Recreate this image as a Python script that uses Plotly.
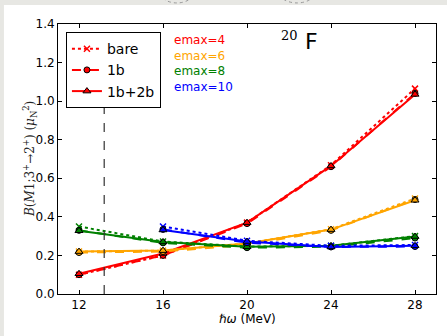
import plotly.graph_objects as go

# Oscillator frequencies (MeV)
hw = [12, 16, 20, 24, 28]
hw_e10 = [16, 20, 24, 28]

# B(M1; 3+ -> 2+) in mu_N^2 for each model space size
bare_e4 = [0.100, 0.200, 0.370, 0.668, 1.065]
ob_e4 = [0.100, 0.200, 0.365, 0.660, 1.040]
tb_e4 = [0.105, 0.210, 0.370, 0.664, 1.035]

bare_e6 = [0.220, 0.225, 0.262, 0.336, 0.495]
ob_e6 = [0.215, 0.220, 0.255, 0.330, 0.490]
tb_e6 = [0.220, 0.225, 0.262, 0.334, 0.486]

bare_e8 = [0.350, 0.272, 0.246, 0.250, 0.300]
ob_e8 = [0.330, 0.265, 0.240, 0.245, 0.290]
tb_e8 = [0.328, 0.270, 0.245, 0.250, 0.298]

bare_e10 = [0.350, 0.276, 0.250, 0.254]
ob_e10 = [0.335, 0.266, 0.244, 0.246]
tb_e10 = [0.332, 0.272, 0.244, 0.250]

emax_labels = ["emax=4", "emax=6", "emax=8", "emax=10"]
colors = ["#ff0000", "#ffa500", "#008000", "#0000ff"]
legend_names = ["bare", "1b", "1b+2b"]
hw_cut = 13.2

series = [
    (hw, bare_e4, ob_e4, tb_e4),
    (hw, bare_e6, ob_e6, tb_e6),
    (hw, bare_e8, ob_e8, tb_e8),
    (hw_e10, bare_e10, ob_e10, tb_e10),
]

fig = go.Figure()

for (xs, bare, ob, tb), c in zip(series, colors):
    fig.add_trace(go.Scatter(
        x=xs, y=bare, mode="lines+markers", showlegend=False,
        line=dict(color=c, width=2, dash="dot"),
        marker=dict(symbol="x-thin", size=6, line=dict(color=c, width=1.5)),
    ))
    fig.add_trace(go.Scatter(
        x=xs, y=ob, mode="lines+markers", showlegend=False,
        line=dict(color=c, width=2, dash="dash"),
        marker=dict(symbol="circle", size=6, color=c, line=dict(color="black", width=1)),
    ))
    fig.add_trace(go.Scatter(
        x=xs, y=tb, mode="lines+markers", showlegend=False,
        line=dict(color=c, width=2),
        marker=dict(symbol="triangle-up", size=7, color=c, line=dict(color="black", width=1)),
    ))

# legend entries
leg_styles = [
    ("dot", dict(symbol="x-thin", size=6, line=dict(color="#ff0000", width=1.5))),
    ("dash", dict(symbol="circle", size=6, color="#ff0000", line=dict(color="black", width=1))),
    ("solid", dict(symbol="triangle-up", size=7, color="#ff0000", line=dict(color="black", width=1))),
]
for name, (dash, mk) in zip(legend_names, leg_styles):
    fig.add_trace(go.Scatter(
        x=[None], y=[None], mode="lines+markers", name=name,
        line=dict(color="#ff0000", width=2, dash=dash), marker=mk,
    ))

shapes = [
    # white page panel
    dict(type="rect", xref="paper", yref="paper", x0=-0.143, x1=1.1, y0=-0.3, y1=1.0704,
         fillcolor="white", line=dict(width=0), layer="below"),
    # cut-off frequency marker
    dict(type="line", xref="x", yref="y", x0=hw_cut, x1=hw_cut, y0=0, y1=1.4,
         line=dict(color="#333333", width=1.2, dash="dash")),
    # dotted arcs at the page top
    dict(type="circle", xref="paper", yref="paper", x0=0.267, x1=0.362, y0=1.078, y1=1.17,
         line=dict(color="#999999", width=1, dash="dot")),
    dict(type="circle", xref="paper", yref="paper", x0=0.582, x1=0.683, y0=1.078, y1=1.17,
         line=dict(color="#999999", width=1, dash="dot")),
]

annotations = []
for i, (lab, c) in enumerate(zip(emax_labels, colors)):
    annotations.append(dict(
        x=16.43, y=1.317 - 0.081 * i, xref="x", yref="y", text=lab, showarrow=False,
        xanchor="left", yanchor="middle", font=dict(family="DejaVu Sans", size=12, color=c),
    ))
annotations += [
    dict(x=22.5, y=1.34, xref="x", yref="y", text="20", showarrow=False,
         xanchor="right", yanchor="middle",
         font=dict(family="DejaVu Serif", size=13, color="black")),
    dict(x=22.65, y=1.31, xref="x", yref="y", text="F", showarrow=False,
         xanchor="left", yanchor="middle",
         font=dict(family="DejaVu Sans", size=22, color="black")),
    dict(x=(30 - 58) / 378, y=(294 - 159) / 270, xref="paper", yref="paper",
         text="<i>B</i>(<i>M</i>1;3<sup>+</sup>→2<sup>+</sup>) (<i>μ</i><sub>N</sub><sup>2</sup>)",
         textangle=-90, showarrow=False, xanchor="center", yanchor="middle",
         font=dict(family="DejaVu Serif", size=12, color="#222222")),
    dict(x=0.5, y=(294 - 319) / 270, xref="paper", yref="paper",
         text="<i>ℏω</i> (MeV)", showarrow=False, xanchor="center", yanchor="middle",
         font=dict(family="DejaVu Sans", size=12, color="black")),
]

axis_common = dict(
    showline=True, linecolor="black", linewidth=1, mirror="ticks",
    ticks="inside", ticklen=4, tickcolor="black", showgrid=False, zeroline=False,
    tickfont=dict(family="DejaVu Sans", size=12, color="black"),
)

fig.update_layout(
    width=447, height=336,
    margin=dict(l=58, r=11, t=24, b=42),
    paper_bgcolor="#e7e7e3", plot_bgcolor="white",
    xaxis=dict(range=[11, 29], tickvals=hw, **axis_common),
    yaxis=dict(range=[0, 1.4], dtick=0.2, tickformat=".1f", **axis_common),
    shapes=shapes, annotations=annotations,
    legend=dict(x=0.021, y=0.97, xanchor="left", yanchor="top",
                bgcolor="white", bordercolor="black", borderwidth=1,
                font=dict(family="DejaVu Sans", size=14, color="black"),
                itemwidth=30, tracegroupgap=0),
    showlegend=True,
)

fig.write_html("out.html")
